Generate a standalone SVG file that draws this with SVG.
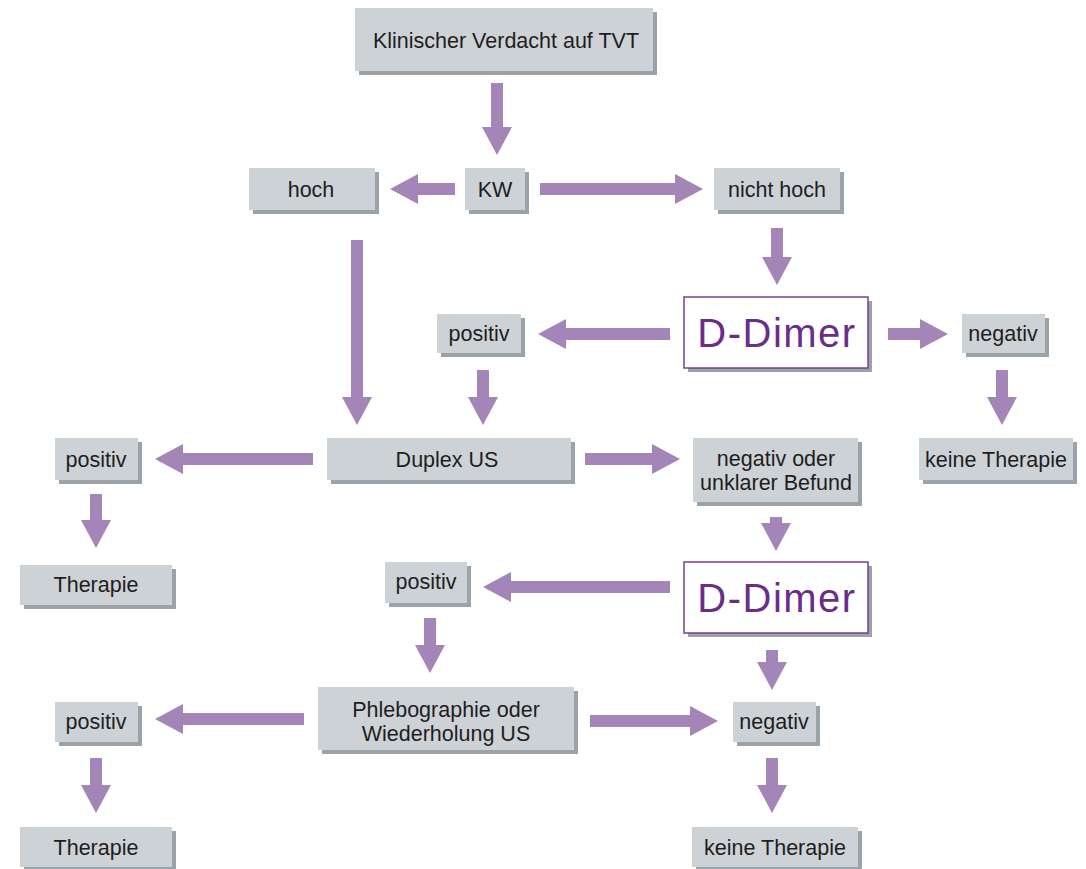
<svg xmlns="http://www.w3.org/2000/svg" width="1086" height="869" viewBox="0 0 1086 869">
<style>
.sh{fill:#9aa3aa}
.bx{fill:#cdd2d6}
.t{font-family:"Liberation Sans",Arial,sans-serif;font-size:21.5px;fill:#1e1e1e;text-anchor:middle}
.dd{fill:#fff;stroke:#7b3c96;stroke-width:1.5}
.dt{font-family:"Liberation Sans",Arial,sans-serif;font-size:40px;fill:#6a2d8a;text-anchor:middle;letter-spacing:1.5px}
.ar{stroke:#a385b8;stroke-width:12;fill:none;marker-end:url(#h)}
</style>
<defs>
<marker id="h" markerUnits="userSpaceOnUse" markerWidth="28" markerHeight="30" viewBox="0 0 28 30" refX="0" refY="15" orient="auto">
<path d="M0,0 L28,15 L0,30 z" fill="#a385b8"/>
</marker>
</defs>
<rect width="1086" height="869" fill="#fff"/>
<g id="connectors">
<line class="ar" x1="497" y1="83" x2="497" y2="127"/>
<line class="ar" x1="455" y1="189" x2="418" y2="189"/>
<line class="ar" x1="540" y1="189" x2="675" y2="189"/>
<line class="ar" x1="777" y1="228" x2="777" y2="257"/>
<line class="ar" x1="670" y1="334" x2="566" y2="334"/>
<line class="ar" x1="888" y1="334" x2="920" y2="334"/>
<line class="ar" x1="1002" y1="370" x2="1002" y2="397"/>
<line class="ar" x1="357" y1="240" x2="357" y2="397"/>
<line class="ar" x1="483" y1="370" x2="483" y2="397"/>
<line class="ar" x1="313" y1="459" x2="183" y2="459"/>
<line class="ar" x1="585" y1="459" x2="652" y2="459"/>
<line class="ar" x1="96" y1="494" x2="96" y2="520"/>
<line class="ar" x1="776" y1="517" x2="776" y2="523"/>
<line class="ar" x1="670" y1="587" x2="511" y2="587"/>
<line class="ar" x1="430" y1="618" x2="430" y2="645"/>
<line class="ar" x1="304" y1="719" x2="183" y2="719"/>
<line class="ar" x1="590" y1="721" x2="690" y2="721"/>
<line class="ar" x1="96" y1="758" x2="96" y2="785"/>
<line class="ar" x1="772" y1="650" x2="772" y2="662"/>
<line class="ar" x1="772" y1="758" x2="772" y2="785"/>
</g>
<g id="n1"><rect class="sh" x="359" y="12" width="298" height="63"/><rect class="bx" x="355" y="8" width="298" height="63"/><text class="t" x="506" y="48">Klinischer Verdacht auf TVT</text></g>
<g id="n2"><rect class="sh" x="253" y="172" width="126" height="42"/><rect class="bx" x="249" y="168" width="126" height="42"/><text class="t" x="311" y="197">hoch</text></g>
<g id="n3"><rect class="sh" x="469" y="172" width="60" height="42"/><rect class="bx" x="465" y="168" width="60" height="42"/><text class="t" x="495" y="197">KW</text></g>
<g id="n4"><rect class="sh" x="718" y="172" width="126" height="42"/><rect class="bx" x="714" y="168" width="126" height="42"/><text class="t" x="777" y="197">nicht hoch</text></g>
<g id="n5"><rect class="sh" x="688" y="301" width="184" height="71"/><rect class="dd" x="684" y="297" width="184" height="71"/><text class="dt" x="777" y="347">D-Dimer</text></g>
<g id="n6"><rect class="sh" x="441" y="318" width="84" height="39"/><rect class="bx" x="437" y="314" width="84" height="39"/><text class="t" x="479" y="341">positiv</text></g>
<g id="n7"><rect class="sh" x="966" y="318" width="83" height="39"/><rect class="bx" x="962" y="314" width="83" height="39"/><text class="t" x="1003" y="341">negativ</text></g>
<g id="n8"><rect class="sh" x="923" y="442" width="154" height="42"/><rect class="bx" x="919" y="438" width="154" height="42"/><text class="t" x="996" y="467">keine Therapie</text></g>
<g id="n9"><rect class="sh" x="331" y="442" width="244" height="42"/><rect class="bx" x="327" y="438" width="244" height="42"/><text class="t" x="447" y="467">Duplex US</text></g>
<g id="n10"><rect class="sh" x="59" y="442" width="83" height="42"/><rect class="bx" x="55" y="438" width="83" height="42"/><text class="t" x="96" y="467">positiv</text></g>
<g id="n11"><rect class="sh" x="697" y="442" width="165" height="64"/><rect class="bx" x="693" y="438" width="165" height="64"/><text class="t" x="776" y="466">negativ oder</text><text class="t" x="776" y="490">unklarer Befund</text></g>
<g id="n12"><rect class="sh" x="24" y="569" width="152" height="40"/><rect class="bx" x="20" y="565" width="152" height="40"/><text class="t" x="96" y="592">Therapie</text></g>
<g id="n13"><rect class="sh" x="688" y="566" width="184" height="71"/><rect class="dd" x="684" y="562" width="184" height="71"/><text class="dt" x="777" y="612">D-Dimer</text></g>
<g id="n14"><rect class="sh" x="389" y="566" width="82" height="41"/><rect class="bx" x="385" y="562" width="82" height="41"/><text class="t" x="426" y="589">positiv</text></g>
<g id="n15"><rect class="sh" x="322" y="691" width="256" height="63"/><rect class="bx" x="318" y="687" width="256" height="63"/><text class="t" x="446" y="717">Phlebographie oder</text><text class="t" x="446" y="741">Wiederholung US</text></g>
<g id="n16"><rect class="sh" x="59" y="706" width="83" height="40"/><rect class="bx" x="55" y="702" width="83" height="40"/><text class="t" x="96" y="729">positiv</text></g>
<g id="n17"><rect class="sh" x="737" y="706" width="83" height="40"/><rect class="bx" x="733" y="702" width="83" height="40"/><text class="t" x="774" y="729">negativ</text></g>
<g id="n18"><rect class="sh" x="24" y="831" width="152" height="40"/><rect class="bx" x="20" y="827" width="152" height="40"/><text class="t" x="96" y="855">Therapie</text></g>
<g id="n19"><rect class="sh" x="696" y="831" width="166" height="40"/><rect class="bx" x="692" y="827" width="166" height="40"/><text class="t" x="775" y="855">keine Therapie</text></g>
</svg>
